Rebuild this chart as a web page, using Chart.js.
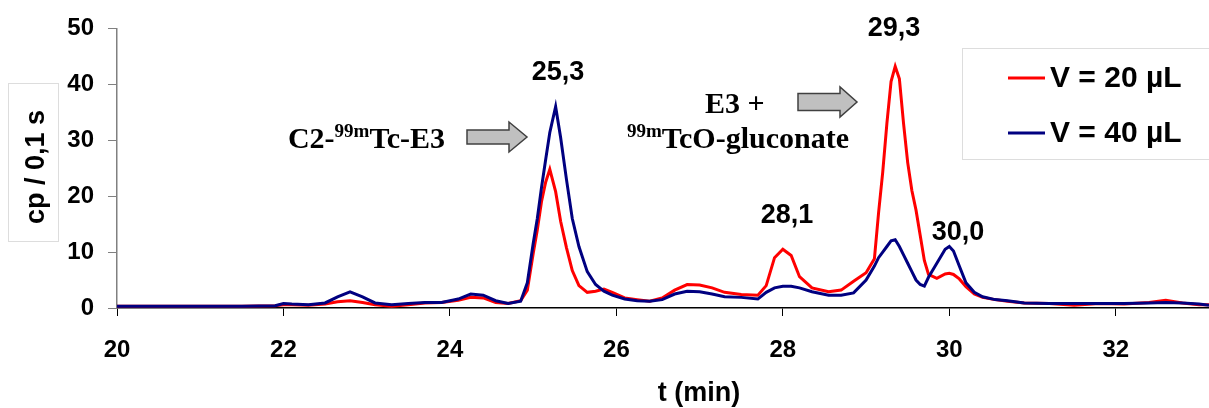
<!DOCTYPE html>
<html>
<head>
<meta charset="utf-8">
<script src="https://cdn.jsdelivr.net/npm/chart.js@4.4.0/dist/chart.umd.min.js"></script>
<style>
html,body{margin:0;padding:0;background:#fff;}
#wrap{position:relative;width:1209px;height:408px;}
</style>
</head>
<body>
<div id="wrap"><canvas id="c" width="1209" height="408"></canvas></div>
<script>
// ---- data ----
const times = [20.0,20.5,21.0,21.5,21.9,22.0,22.1,22.3,22.5,22.65,22.8,22.95,23.1,23.3,23.5,23.7,23.9,24.1,24.25,24.4,24.55,24.7,24.85,24.93,25.0,25.05,25.1,25.15,25.2,25.27,25.33,25.4,25.47,25.55,25.65,25.75,25.85,25.95,26.1,26.25,26.4,26.55,26.7,26.85,27.0,27.15,27.3,27.5,27.7,27.8,27.9,28.0,28.1,28.2,28.35,28.55,28.7,28.85,29.0,29.1,29.15,29.2,29.25,29.3,29.35,29.4,29.45,29.5,29.55,29.6,29.65,29.7,29.75,29.85,29.95,30.0,30.05,30.12,30.2,30.3,30.4,30.55,30.7,30.9,31.2,31.5,31.8,32.1,32.4,32.6,32.8,33.0,33.12];
const v20 = [0.3,0.3,0.3,0.3,0.4,0.6,0.6,0.5,0.7,1.1,1.3,1.0,0.6,0.3,0.6,0.9,1.0,1.4,1.9,1.8,1.0,0.8,1.3,3.2,9.7,14,19,22.5,24.8,20.8,15.5,10.8,6.7,4.0,2.8,3.0,3.4,2.8,1.8,1.5,1.2,1.8,3.2,4.2,4.1,3.6,2.8,2.4,2.3,4.0,9.0,10.5,9.4,5.6,3.6,2.9,3.2,4.8,6.3,8.8,17,24.3,33,40.5,43.2,41,33,26,21,17.5,13,8.5,6.0,5.3,6.1,6.2,6.0,5.2,3.8,2.5,1.9,1.5,1.2,0.9,0.8,0.5,0.8,0.7,1.0,1.4,0.9,0.6,0.6];
const v40 = [0.3,0.3,0.3,0.3,0.4,0.8,0.7,0.6,0.9,2.0,2.9,2.0,0.9,0.6,0.8,1.0,1.0,1.6,2.5,2.3,1.3,0.8,1.2,4.5,11.5,16,21.5,26.5,31.4,36,30.5,23,16,11,6.5,4.2,3.0,2.3,1.6,1.3,1.2,1.5,2.5,3.0,2.9,2.5,2.0,1.9,1.6,2.8,3.6,3.9,3.9,3.6,2.9,2.3,2.3,2.7,5.0,7.5,9.0,10.0,11.0,12.0,12.2,11.0,9.5,8.0,6.5,5.0,4.2,3.9,5.5,8.0,10.5,11.0,10.2,7.5,4.5,2.8,2.0,1.5,1.3,0.9,0.8,0.8,0.8,0.8,0.9,1.0,0.9,0.7,0.5];
const seriesLabels = ['V = 20 \u00b5L','V = 40 \u00b5L'];
const peakLabels = [
  {text:'25,3', x:558, y:73},
  {text:'29,3', x:894, y:29},
  {text:'28,1', x:787, y:216},
  {text:'30,0', x:958, y:233}
];
const xTitle = 't (min)';
const yTitle = 'cp / 0,1 s';

const SANS = '"Liberation Sans", Arial, sans-serif';
const SERIF = '"Liberation Serif", "Times New Roman", serif';

function pts(vals){ return times.map((t,i)=>({x:t,y:vals[i]})); }

function richWidth(ctx, parts, size){
  let w = 0;
  parts.forEach(p=>{
    ctx.font = 'bold '+(p.sup?Math.round(size*0.62):size)+'px '+SERIF;
    w += ctx.measureText(p.t).width;
  });
  return w;
}
function drawRich(ctx, parts, x, baseline, size, alignRight){
  let cx = alignRight ? x - richWidth(ctx, parts, size) : x;
  parts.forEach(p=>{
    if(p.sup){
      ctx.font = 'bold '+Math.round(size*0.62)+'px '+SERIF;
      ctx.fillText(p.t, cx, baseline - size*0.38);
    } else {
      ctx.font = 'bold '+size+'px '+SERIF;
      ctx.fillText(p.t, cx, baseline);
    }
    cx += ctx.measureText(p.t).width;
  });
}
function arrow(ctx, x0, x1, xh, yc, shaftH, headH){
  ctx.beginPath();
  ctx.moveTo(x0, yc - shaftH/2);
  ctx.lineTo(xh, yc - shaftH/2);
  ctx.lineTo(xh, yc - headH/2);
  ctx.lineTo(x1, yc);
  ctx.lineTo(xh, yc + headH/2);
  ctx.lineTo(xh, yc + shaftH/2);
  ctx.lineTo(x0, yc + shaftH/2);
  ctx.closePath();
  ctx.fillStyle = '#c0c0c0';
  ctx.fill();
  ctx.lineWidth = 1.5;
  ctx.strokeStyle = '#404040';
  ctx.stroke();
}

const decor = {
  id:'decor',
  afterDraw(chart){
    const ctx = chart.ctx;
    ctx.save();
    // y title box
    ctx.strokeStyle = '#dddddd'; ctx.lineWidth = 1;
    ctx.strokeRect(8.5, 83.5, 50, 158);
    ctx.save();
    ctx.translate(37, 167);
    ctx.rotate(-Math.PI/2);
    ctx.fillStyle = '#000';
    ctx.font = 'bold 27px '+SANS;
    ctx.textAlign = 'center'; ctx.textBaseline = 'middle';
    ctx.fillText(yTitle, 0, 0);
    ctx.restore();
    // x title
    ctx.fillStyle = '#000';
    ctx.font = 'bold 27px '+SANS;
    ctx.textAlign = 'center'; ctx.textBaseline = 'middle';
    ctx.fillText(xTitle, 699, 394);
    // peak labels
    ctx.font = 'bold 27px '+SANS;
    peakLabels.forEach(p=>ctx.fillText(p.text, p.x, p.y));
    // legend
    ctx.strokeStyle = '#dddddd'; ctx.lineWidth = 1;
    ctx.strokeRect(962.5, 48.5, 260, 111);
    const ly = [78, 133];
    ctx.textAlign = 'left';
    ctx.font = 'bold 30px '+SANS;
    chart.data.datasets.forEach((d,i)=>{
      ctx.strokeStyle = d.borderColor; ctx.lineWidth = 3;
      ctx.beginPath(); ctx.moveTo(1008, ly[i]); ctx.lineTo(1045, ly[i]); ctx.stroke();
      ctx.fillStyle = '#000';
      ctx.fillText(d.label, 1050, ly[i]+1);
    });
    // serif annotations
    ctx.textAlign = 'left'; ctx.textBaseline = 'alphabetic';
    ctx.fillStyle = '#000';
    drawRich(ctx, [{t:'C2-'},{t:'99m',sup:true},{t:'Tc-E3'}], 445, 148, 30, true);
    drawRich(ctx, [{t:'E3 +'}], 705, 113, 30);
    drawRich(ctx, [{t:'99m',sup:true},{t:'TcO-gluconate'}], 849, 148, 30, true);
    arrow(ctx, 467, 527, 509, 137, 14, 30);
    arrow(ctx, 798, 857, 840, 102, 17, 30);
    ctx.restore();
  }
};

new Chart(document.getElementById('c'), {
  type:'line',
  data:{
    datasets:[
      {label:seriesLabels[0], data:pts(v20), borderColor:'#ff0000', borderWidth:3, pointRadius:0, tension:0, fill:false, order:2},
      {label:seriesLabels[1], data:pts(v40), borderColor:'#000080', borderWidth:3, pointRadius:0, tension:0, fill:false, order:1}
    ]
  },
  options:{
    responsive:false, animation:false,
    layout:{padding:{top:25,left:0,right:0,bottom:0}},
    plugins:{legend:{display:false}, tooltip:{enabled:false}},
    scales:{
      x:{type:'linear', min:20, max:33.12,
        ticks:{stepSize:2, includeBounds:false, color:'#000', font:{family:SANS, size:24, weight:'bold'}, padding:20, maxRotation:0},
        grid:{drawOnChartArea:false, drawTicks:true, tickLength:8, color:'#000'},
        border:{color:'#000', width:1.5},
        afterFit(s){ s.height = 100; }
      },
      y:{min:0, max:50,
        ticks:{stepSize:10, color:'#000', font:{family:SANS, size:24, weight:'bold'}, padding:14},
        grid:{drawOnChartArea:false, drawTicks:true, tickLength:9, color:'#808080'},
        border:{color:'#808080', width:1.5},
        afterFit(s){ s.width = 117; }
      }
    }
  },
  plugins:[decor]
});
</script>
</body>
</html>
